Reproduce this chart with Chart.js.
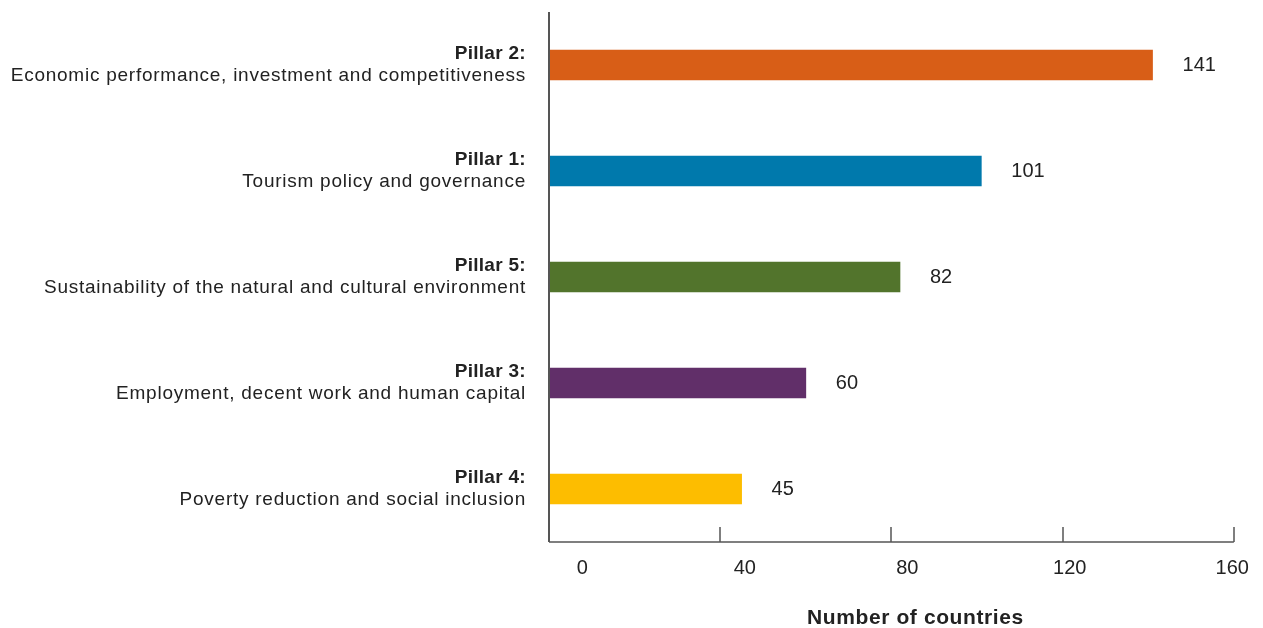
<!DOCTYPE html>
<html>
<head>
<meta charset="utf-8">
<script src="https://cdn.jsdelivr.net/npm/chart.js@4/dist/chart.umd.min.js"></script>
<style>
  html, body { margin: 0; padding: 0; background: #fff; }
  #wrap { width: 1263px; height: 628px; position: relative; }
</style>
</head>
<body>
<div id="wrap"><canvas id="pilares"></canvas></div>
<script>
// datos
var pillarNames = ["Pillar 2:", "Pillar 1:", "Pillar 5:", "Pillar 3:", "Pillar 4:"]
var pillarTitles = [
  "Economic performance, investment and competitiveness",
  "Tourism policy and governance",
  "Sustainability of the natural and cultural environment",
  "Employment, decent work and human capital",
  "Poverty reduction and social inclusion",
]
var countries = [141, 101, 82, 60, 45]
var barColors = ["#D85E17", "#0079AC", "#52742C", "#612F69", "#FDBD00"]
var xTicks = [0, 40, 80, 120, 160]

var FONT = "'Liberation Sans', Arial, Helvetica, sans-serif"
var TEXT = "#222222"

// etiquetas, ejes y valores dibujados a mano
var pillarPlugin = {
  id: "pillarPlugin",
  afterDraw: function (chart) {
    var ctx = chart.ctx
    var area = chart.chartArea
    var x = chart.scales.x
    var y = chart.scales.y
    ctx.save()

    // ejes
    ctx.strokeStyle = "#555555"
    ctx.lineWidth = 2
    ctx.beginPath()
    ctx.moveTo(area.left, area.top)
    ctx.lineTo(area.left, area.bottom)
    ctx.stroke()
    ctx.lineWidth = 1.5
    ctx.beginPath()
    ctx.moveTo(area.left, area.bottom)
    ctx.lineTo(area.right, area.bottom)
    xTicks.forEach(function (t) {
      if (t === 0) return
      var px = Math.round(x.getPixelForValue(t))
      ctx.moveTo(px, area.bottom)
      ctx.lineTo(px, area.bottom - 15)
    })
    ctx.stroke()

    // etiquetas de categoría
    ctx.fillStyle = TEXT
    ctx.textAlign = "right"
    ctx.textBaseline = "middle"
    pillarNames.forEach(function (name, i) {
      var py = y.getPixelForValue(i)
      ctx.font = "bold 19px " + FONT
      ctx.letterSpacing = "0.3px"
      ctx.fillText(name, area.left - 23, py - 11)
      ctx.font = "19px " + FONT
      ctx.letterSpacing = "0.75px"
      ctx.fillText(pillarTitles[i], area.left - 23, py + 11)
    })
    ctx.letterSpacing = "0px"

    // valores
    ctx.textAlign = "left"
    ctx.font = "20px " + FONT
    var meta = chart.getDatasetMeta(0)
    meta.data.forEach(function (bar, i) {
      ctx.fillText(String(countries[i]), bar.x + 30, bar.y)
    })

    // título del eje
    ctx.textAlign = "center"
    ctx.font = "bold 21px " + FONT
    ctx.letterSpacing = "0.6px"
    ctx.fillText("Number of countries", (area.left + area.right) / 2 + 24, 618)
    ctx.restore()
  },
}

document.addEventListener("DOMContentLoaded", () => {
  var ctx = document.getElementById("pilares").getContext("2d")
  var chart = new Chart(ctx, {
    type: "bar",
    data: {
      labels: pillarNames,
      datasets: [
        {
          label: "Number of countries",
          data: countries,
          backgroundColor: barColors,
          borderWidth: 0,
          barThickness: 30,
        },
      ],
    },
    options: {
      indexAxis: "y",
      responsive: true,
      maintainAspectRatio: false,
      animation: false,
      layout: {
        padding: { left: 549, right: 28, top: 12, bottom: 0 },
      },
      scales: {
        x: {
          display: false,
          min: 0,
          max: 160,
        },
        // eje auxiliar solo para los rótulos numéricos
        x2: {
          type: "linear",
          position: "bottom",
          min: -8.2,
          max: 160.4,
          grid: { display: false, drawTicks: false },
          border: { display: false },
          ticks: {
            color: TEXT,
            font: { family: FONT, size: 20 },
            padding: 14,
            maxRotation: 0,
          },
          afterBuildTicks: function (scale) {
            scale.ticks = xTicks.map(function (v) { return { value: v } })
          },
          afterFit: function (scale) {
            scale.height = 86
          },
        },
        y: {
          display: false,
        },
      },
      plugins: {
        legend: { display: false },
        title: { display: false },
        tooltip: { enabled: false },
      },
    },
    plugins: [pillarPlugin],
  })
})
</script>
</body>
</html>
